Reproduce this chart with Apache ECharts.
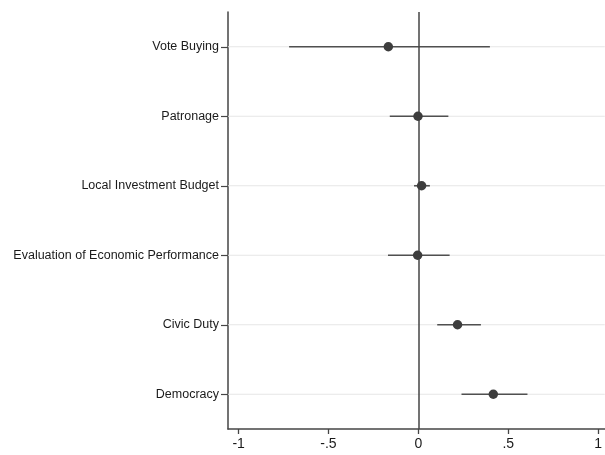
<!DOCTYPE html>
<html>
<head>
<meta charset="utf-8">
<script src="https://cdn.jsdelivr.net/npm/echarts@6/dist/echarts.min.js"></script>
<style>
  html, body { margin: 0; padding: 0; background: #fff; }
  #chart { width: 605px; height: 455px; }
</style>
</head>
<body>
<div id="chart"></div>
<script>
// variables, top to bottom
var categories = ['Vote Buying', 'Patronage', 'Local Investment Budget',
                  'Evaluation of Economic Performance', 'Civic Duty', 'Democracy'];
// point estimates
var estimates = [-0.167, -0.002, 0.018, -0.004, 0.218, 0.417];
// confidence interval bounds
var ciLow  = [-0.719, -0.159, -0.024, -0.169, 0.105, 0.240];
var ciHigh = [ 0.398,  0.167,  0.064,  0.174, 0.348, 0.607];
// x ticks and their labels
var xTicks = [-1, -0.5, 0, 0.5, 1];
var xTickLabels = ['-1', '-.5', '0', '.5', '1'];

var dark = '#454545';

var ciData = categories.map(function (c, i) { return [ciLow[i], ciHigh[i], i]; });
var pointData = categories.map(function (c, i) { return [estimates[i], i]; });
var gridData = categories.map(function (c, i) { return [0, i]; });

var chart = echarts.init(document.getElementById('chart'));
chart.setOption({
    animation: false,
    backgroundColor: '#fff',
    textStyle: { fontFamily: 'Liberation Sans, Arial, sans-serif' },
    grid: { left: 228, right: 0, top: 12, bottom: 26, containLabel: false },
    xAxis: {
        type: 'value',
        min: -1.059,
        max: 1.037,
        axisLine: { show: true, onZero: false, lineStyle: { color: dark, width: 1.5 } },
        axisTick: { show: true, length: 5, customValues: xTicks, lineStyle: { color: dark, width: 1.3 } },
        axisLabel: {
            customValues: xTicks,
            margin: 8,
            fontSize: 14,
            color: '#1a1a1a',
            formatter: function (v) { return xTickLabels[xTicks.indexOf(v)]; }
        },
        splitLine: { show: false }
    },
    yAxis: {
        type: 'category',
        data: categories,
        inverse: true,
        axisLine: { show: true, onZero: false, lineStyle: { color: dark, width: 1.5 } },
        axisTick: { show: true, alignWithLabel: true, length: 7, lineStyle: { color: dark, width: 1.2 } },
        axisLabel: { margin: 9, fontSize: 12.5, color: '#1a1a1a' },
        splitLine: { show: false }
    },
    series: [
        {
            // horizontal grid lines through each row
            type: 'custom',
            silent: true,
            z: 1,
            data: gridData,
            renderItem: function (params, api) {
                var y = api.coord([0, api.value(1)])[1];
                var cs = params.coordSys;
                return {
                    type: 'line',
                    shape: { x1: cs.x, y1: y, x2: cs.x + cs.width, y2: y },
                    style: { stroke: '#e6e6e6', lineWidth: 1.2 }
                };
            }
        },
        {
            // confidence intervals
            type: 'custom',
            z: 3,
            data: ciData,
            encode: { x: [0, 1], y: 2 },
            renderItem: function (params, api) {
                var a = api.coord([api.value(0), api.value(2)]);
                var b = api.coord([api.value(1), api.value(2)]);
                return {
                    type: 'line',
                    shape: { x1: a[0], y1: a[1], x2: b[0], y2: b[1] },
                    style: { stroke: '#505050', lineWidth: 1.6 }
                };
            }
        },
        {
            type: 'scatter',
            z: 5,
            data: pointData,
            symbol: 'circle',
            symbolSize: 9.5,
            itemStyle: { color: '#3d3d3d', opacity: 1 },
            markLine: {
                silent: true,
                symbol: 'none',
                label: { show: false },
                lineStyle: { color: dark, width: 1.5, type: 'solid' },
                data: [{ xAxis: 0 }]
            }
        }
    ]
});
</script>
</body>
</html>
